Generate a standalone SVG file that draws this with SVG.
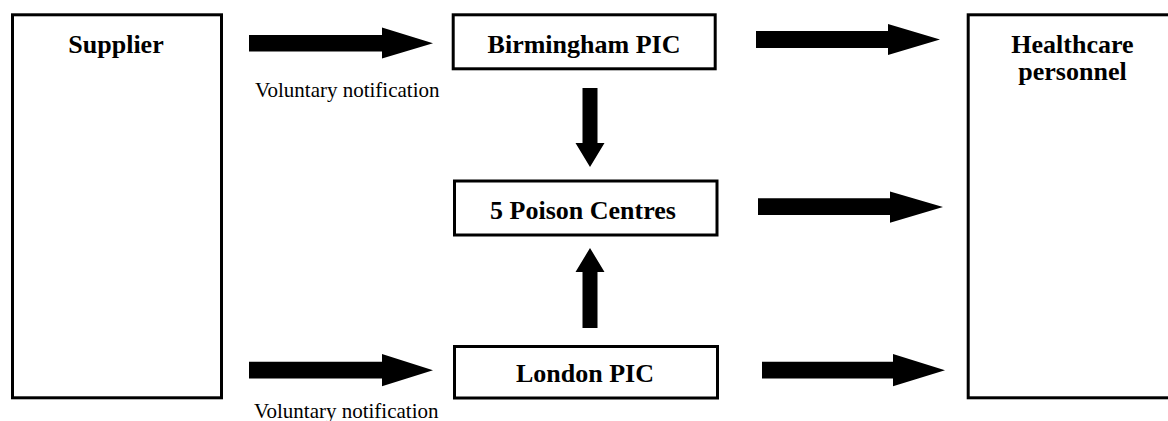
<svg xmlns="http://www.w3.org/2000/svg" width="1168" height="421" viewBox="0 0 1168 421">
  <style>
    .box { fill: #ffffff; stroke: #000000; stroke-width: 3; }
    .title { font-family: "Liberation Serif", "Times New Roman", serif; font-weight: bold; font-size: 26px; fill: #000000; text-anchor: middle; }
    .label { font-family: "Liberation Serif", "Times New Roman", serif; font-size: 21px; fill: #000000; }
    .arrow { fill: #000000; stroke: none; }
  </style>
  <rect x="0" y="0" width="1168" height="421" fill="#ffffff"/>

  <g id="supplier">
    <rect class="box" x="12.5" y="14.8" width="209" height="383"/>
    <text class="title" x="116" y="52.5">Supplier</text>
  </g>

  <g id="birmingham">
    <rect class="box" x="453.2" y="14.8" width="262" height="54"/>
    <text class="title" x="584" y="52.5">Birmingham PIC</text>
  </g>

  <g id="poison-centres">
    <rect class="box" x="454.5" y="181" width="262.5" height="54"/>
    <text class="title" x="583" y="219">5 Poison Centres</text>
  </g>

  <g id="london">
    <rect class="box" x="454.5" y="346.5" width="263" height="51.5"/>
    <text class="title" x="585" y="382">London PIC</text>
  </g>

  <g id="healthcare">
    <rect class="box" x="968.2" y="14.8" width="215" height="383"/>
    <text class="title" x="1072.5" y="52.5">Healthcare</text>
    <text class="title" x="1072.5" y="80">personnel</text>
  </g>

  <g id="connectors">
    <path class="arrow" d="M249,35 H382 V27.5 L433,43.2 L382,58.5 V51.5 H249 Z"/>
    <path class="arrow" d="M756,31 H888 V24 L940,39.5 L888,55 V48 H756 Z"/>
    <path class="arrow" d="M249,361.7 H382 V354 L433,370.2 L382,386.3 V378.5 H249 Z"/>
    <path class="arrow" d="M758,198.3 H890 V191.5 L943,207 L890,222.7 V215 H758 Z"/>
    <path class="arrow" d="M762,361.7 H893 V354 L945,370.2 L893,386.3 V378.5 H762 Z"/>
    <path class="arrow" d="M582.5,88 H597.5 V143 H604.5 L590,167 L575.5,143 H582.5 Z"/>
    <path class="arrow" d="M582.5,328 H597.5 V272 H604.5 L590,248 L575.5,272 H582.5 Z"/>
  </g>

  <g id="labels">
    <text class="label" x="255" y="97">Voluntary notification</text>
    <text class="label" x="254" y="418">Voluntary notification</text>
  </g>
</svg>
